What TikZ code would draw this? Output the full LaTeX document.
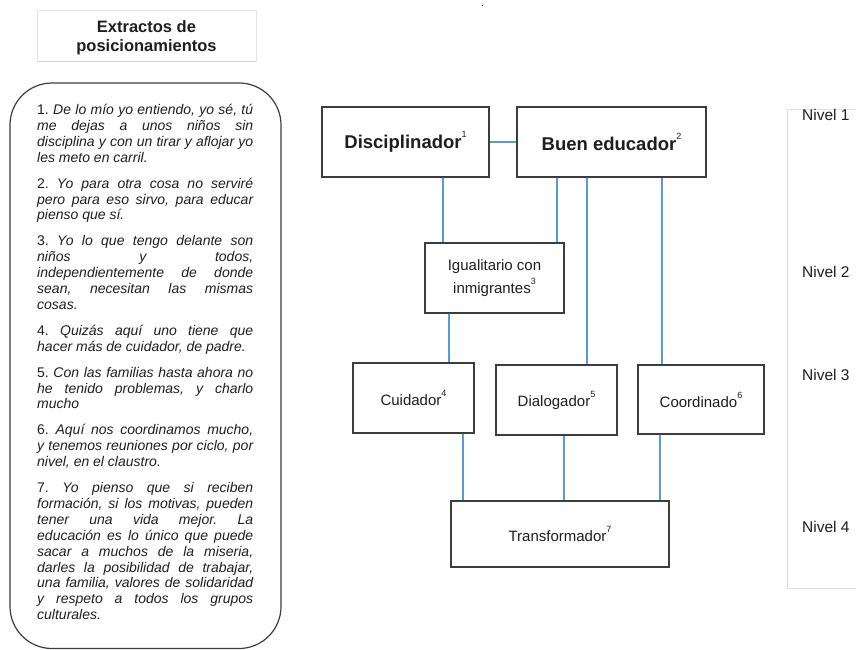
\documentclass[tikz,border=0pt]{standalone}
\usepackage{fontspec}
\setmainfont{Liberation Sans}
\definecolor{azul}{RGB}{91,155,213}
\definecolor{borde}{RGB}{60,60,60}
\definecolor{texto}{RGB}{30,30,30}
\newcommand{\sups}[1]{\raisebox{0.6em}{\mdseries\fontsize{9}{9}\selectfont #1}}
\begin{document}
\begin{tikzpicture}[x=1pt, y=-1pt,
  caja/.style={draw=borde, line width=1.3pt, fill=white, inner sep=2pt, align=center, text=texto, font=\fontsize{15}{23}\selectfont},
  fuerte/.style={caja, font=\bfseries\fontsize{18.5}{22}\selectfont},
  enlace/.style={draw=azul, line width=2.6pt},
  nivel/.style={anchor=west, inner sep=0pt, text=texto, font=\fontsize{15.5}{18}\selectfont}]
\useasboundingbox (0,0) rectangle (856,650);
\draw[gray!22, fill=white, line width=0.8pt] (37,10) rectangle (256,61);
\draw[gray!35, line width=0.8pt] (37,61) -- (256,61);
\node[align=center, text=texto, font=\bfseries\fontsize{16.5}{19}\selectfont] (titulo) at (146.5,38) {Extractos de\\posicionamientos};
\draw[borde, line width=1.2pt, rounded corners=42pt] (10,83) rectangle (281,648.5);
\node[anchor=north west, inner sep=0pt, text width=216pt, align=justify, text=texto, font=\fontsize{14}{15.9}\selectfont] (extractos) at (37,104) {\parindent=0pt \parskip=10pt \hyphenpenalty=10000 \tolerance=10000 \frenchspacing
1. \textit{De lo mío yo entiendo, yo sé, tú\linebreak me dejas a unos niños sin\linebreak disciplina y con un tirar y aflojar yo\linebreak les meto en carril.}\par
2. \textit{Yo para otra cosa no serviré\linebreak pero para eso sirvo, para educar\linebreak pienso que sí.}\par
3. \textit{Yo lo que tengo delante son\linebreak niños y todos,\linebreak independientemente de donde\linebreak sean, necesitan las mismas\linebreak cosas.}\par
4. \textit{Quizás aquí uno tiene que\linebreak hacer más de cuidador, de padre.}\par
5. \textit{Con las familias hasta ahora no\linebreak he tenido problemas, y charlo\linebreak mucho}\par
6. \textit{Aquí nos coordinamos mucho,\linebreak y tenemos reuniones por ciclo, por\linebreak nivel, en el claustro.}\par
7. \textit{Yo pienso que si reciben\linebreak formación, si los motivas, pueden\linebreak tener una vida mejor. La\linebreak educación es lo único que puede\linebreak sacar a muchos de la miseria,\linebreak darles la posibilidad de trabajar,\linebreak una familia, valores de solidaridad\linebreak y respeto a todos los grupos\linebreak culturales.}\par};
\node[anchor=base, inner sep=0pt, font=\bfseries\fontsize{7}{8}\selectfont] (punto) at (482.5,6.5) {.};
\node[fuerte, minimum width=167pt, minimum height=70pt] (disc) at (405.5,142) {Disciplinador\sups{1}};
\node[fuerte, minimum width=189pt, minimum height=70pt] (buen) at (611.5,142) {Buen educador\sups{2}};
\node[caja, minimum width=139pt, minimum height=70pt] (igual) at (494.5,278) {Igualitario con\\inmigrantes\sups{3}};
\node[caja, minimum width=121pt, minimum height=70pt] (cuid) at (413.5,398) {Cuidador\sups{4}};
\node[caja, minimum width=121pt, minimum height=70pt] (dial) at (556.5,400) {Dialogador\sups{5}};
\node[caja, minimum width=126pt, minimum height=69pt] (coord) at (701,399.5) {Coordinado\sups{6}};
\node[caja, minimum width=218pt, minimum height=66pt] (trans) at (560,534) {Transformador\sups{7}};
\draw[enlace] (disc.east) -- (buen.west);
\draw[enlace] (disc.south -| 443,0) -- (igual.north -| 443,0);
\draw[enlace] (buen.south -| 557,0) -- (igual.north -| 557,0);
\draw[enlace] (buen.south -| 587,0) -- (dial.north -| 587,0);
\draw[enlace] (buen.south -| 662,0) -- (coord.north -| 662,0);
\draw[enlace] (igual.south -| 449,0) -- (cuid.north -| 449,0);
\draw[enlace] (cuid.south -| 463,0) -- (trans.north -| 463,0);
\draw[enlace] (dial.south -| 564,0) -- (trans.north -| 564,0);
\draw[enlace] (coord.south -| 660,0) -- (trans.north -| 660,0);
\draw[gray!25, line width=0.8pt] (856,109) -| (787,588) -- (856,588);
\node[nivel] (n1) at (802,115) {Nivel 1};
\node[nivel] (n2) at (802,272) {Nivel 2};
\node[nivel] (n3) at (802,375) {Nivel 3};
\node[nivel] (n4) at (802,527) {Nivel 4};
\end{tikzpicture}
\end{document}
